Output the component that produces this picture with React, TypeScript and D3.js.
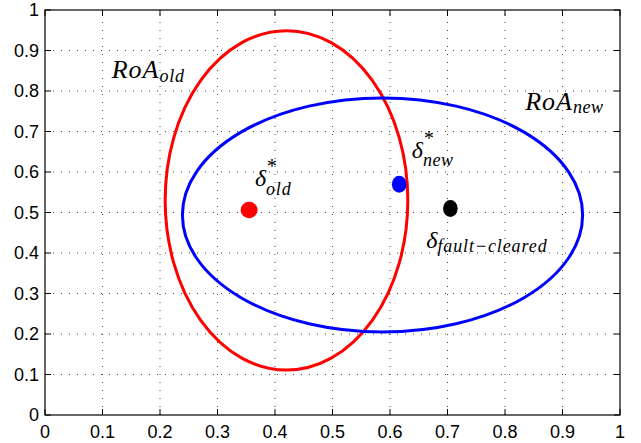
import React from "react";
import * as d3 from "d3";

// axis ticks
const tickValues = [0, 0.1, 0.2, 0.3, 0.4, 0.5, 0.6, 0.7, 0.8, 0.9, 1];
const tickLabels = ["0", "0.1", "0.2", "0.3", "0.4", "0.5", "0.6", "0.7", "0.8", "0.9", "1"];

// regions of attraction (ellipses): centre + half axes
const regionNames = ["old", "new"];
const regionColors = ["#ff0000", "#0000ff"];
const regionCx = [0.42, 0.587];
const regionCy = [0.53, 0.494];
const regionRx = [0.211, 0.348];
const regionRy = [0.419, 0.289];

// operating points
const pointNames = ["old", "new", "fault-cleared"];
const pointColors = ["#ff0000", "#0000ff", "#000000"];
const pointX = [0.355, 0.616, 0.705];
const pointY = [0.506, 0.57, 0.51];

const W = 641;
const H = 443;
const margin = { left: 45, right: 21, top: 10, bottom: 28 };

export default function App() {
  const x = d3.scaleLinear().domain([0, 1]).range([margin.left, W - margin.right]);
  const y = d3.scaleLinear().domain([0, 1]).range([H - margin.bottom, margin.top]);
  const [x0, x1] = x.range();
  const [y0, y1] = y.range();
  const tickLen = 6;
  const math = "'Liberation Serif', 'Times New Roman', serif";

  return (
    <div style={{ position: "fixed", left: 0, top: 0 }}>
      <svg width={W} height={H} style={{ display: "block", background: "#fff" }}>
        {/* grid */}
        <g stroke="#000" strokeWidth={0.9} strokeDasharray="1,7" opacity={0.8}>
          {tickValues.slice(1, -1).map((t) => (
            <line key={"gx" + t} x1={x(t)} x2={x(t)} y1={y0} y2={y1} />
          ))}
          {tickValues.slice(1, -1).map((t) => (
            <line key={"gy" + t} x1={x0} x2={x1} y1={y(t)} y2={y(t)} />
          ))}
        </g>

        {/* ticks inward on all sides */}
        <g stroke="#000" strokeWidth={1}>
          {tickValues.map((t) => (
            <g key={"t" + t}>
              <line x1={x(t)} x2={x(t)} y1={y0} y2={y0 - tickLen} />
              <line x1={x(t)} x2={x(t)} y1={y1} y2={y1 + tickLen} />
              <line x1={x0} x2={x0 + tickLen} y1={y(t)} y2={y(t)} />
              <line x1={x1} x2={x1 - tickLen} y1={y(t)} y2={y(t)} />
            </g>
          ))}
        </g>

        {/* tick labels */}
        <g fontFamily="'Liberation Sans', Arial, sans-serif" fontSize={18} fill="#000">
          {tickValues.map((t, i) => (
            <text key={"lx" + t} x={x(t)} y={y0 + 23} textAnchor="middle">
              {tickLabels[i]}
            </text>
          ))}
          {tickValues.map((t, i) => (
            <text key={"ly" + t} x={x0 - 6} y={y(t) + 6} textAnchor="end">
              {tickLabels[i]}
            </text>
          ))}
        </g>

        {/* regions */}
        {regionNames.map((n, i) => (
          <ellipse
            key={n}
            cx={x(regionCx[i])}
            cy={y(regionCy[i])}
            rx={x(regionCx[i] + regionRx[i]) - x(regionCx[i])}
            ry={y(regionCy[i]) - y(regionCy[i] + regionRy[i])}
            fill="none"
            stroke={regionColors[i]}
            strokeWidth={3}
          />
        ))}

        {/* points */}
        {pointNames.map((n, i) => (
          <ellipse
            key={n}
            cx={x(pointX[i])}
            cy={y(pointY[i])}
            rx={i === 0 ? 8.5 : 7.3}
            ry={i === 0 ? 8.2 : 8.5}
            fill={pointColors[i]}
          />
        ))}

        {/* annotations */}
        <g fontFamily={math} fontStyle="italic" fill="#000">
          <text x={x(0.116)} y={y(0.832)} fontSize={26} letterSpacing={1}>
            RoA<tspan fontSize={18} dy={3.5} letterSpacing={0.8}>old</tspan>
          </text>
          <text x={x(0.835)} y={y(0.752)} fontSize={26} letterSpacing={1}>
            RoA<tspan fontSize={18} dy={3} letterSpacing={0.5}>new</tspan>
          </text>
          <text x={x(0.365)} y={y(0.565)} fontSize={24}>
            δ<tspan fontSize={20} dy={-13}>*</tspan>
            <tspan fontSize={18} dx={-10} dy={22} letterSpacing={0.8}>old</tspan>
          </text>
          <text x={x(0.638)} y={y(0.635)} fontSize={24}>
            δ<tspan fontSize={20} dy={-13}>*</tspan>
            <tspan fontSize={18} dx={-10} dy={21} letterSpacing={0.5}>new</tspan>
          </text>
          <text x={x(0.663)} y={y(0.412)} fontSize={24}>
            δ<tspan fontSize={18} dy={4} letterSpacing={0.9}>fault−cleared</tspan>
          </text>
        </g>

        {/* axes box */}
        <rect x={x0} y={y1} width={x1 - x0} height={y0 - y1} fill="none" stroke="#000" strokeWidth={1.2} />
      </svg>
    </div>
  );
}
